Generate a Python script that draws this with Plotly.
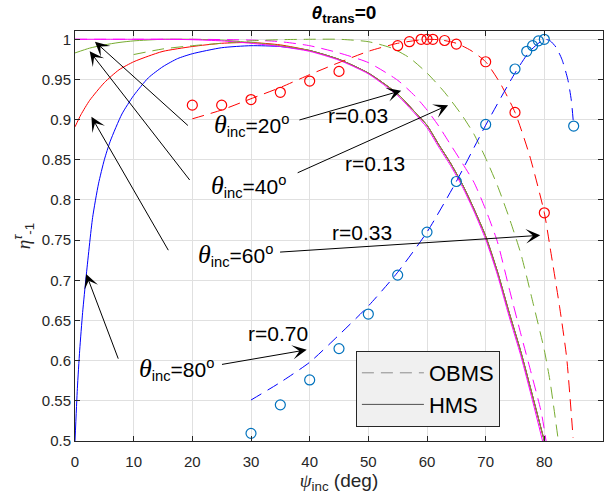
import plotly.graph_objects as go

# ---------------- data ----------------
# HMS (solid) curves
hms20_x = [0, 5, 10, 15, 20, 25, 30, 35, 40, 45, 50, 55, 58, 60, 62, 64, 66, 68, 70, 72, 74, 76, 78, 79.7]
hms20_y = [1.0, 1.0, 1.0, 1.0, 0.9995, 0.998, 0.995, 0.991, 0.985, 0.974, 0.957, 0.930, 0.907, 0.890,
           0.866, 0.843, 0.817, 0.786, 0.751, 0.707, 0.655, 0.606, 0.550, 0.5]
hms40_x = [0, 2.5, 5, 7.5, 10, 15, 20, 25, 30, 35, 40, 45, 50, 55, 58, 60, 62, 64, 66, 68, 70, 72, 74, 76, 78, 80]
hms40_y = [0.983, 0.989, 0.993, 0.996, 0.998, 1.0, 1.0, 0.999, 0.996, 0.992, 0.986, 0.975, 0.958, 0.932,
           0.909, 0.893, 0.869, 0.846, 0.820, 0.789, 0.755, 0.711, 0.660, 0.611, 0.556, 0.5]
hms60_x = [0, 1, 2.5, 5, 7.5, 10, 12.5, 15, 20, 25, 30, 35, 40, 45, 50, 55, 58, 60, 62, 64, 66, 68, 70, 72, 74, 76, 78, 80]
hms60_y = [0.891, 0.906, 0.924, 0.946, 0.962, 0.972, 0.979, 0.985, 0.991, 0.995, 0.996, 0.993, 0.986,
           0.975, 0.958, 0.932, 0.909, 0.893, 0.869, 0.846, 0.820, 0.789, 0.755, 0.711, 0.660, 0.611, 0.556, 0.5]
hms80_x = [0, 0.4, 0.8, 1.3, 1.9, 3, 4, 5, 6, 8, 10, 12.5, 15, 17.5, 20, 25, 30, 35, 40, 45, 50, 55, 58, 60,
           62, 64, 66, 68, 70, 72, 74, 76, 78, 80]
hms80_y = [0.5, 0.565, 0.613, 0.66, 0.705, 0.778, 0.82, 0.85, 0.873, 0.907, 0.93, 0.952, 0.966, 0.976, 0.982,
           0.9895, 0.992, 0.991, 0.986, 0.975, 0.958, 0.932, 0.909, 0.893, 0.869, 0.846, 0.820, 0.789, 0.755,
           0.711, 0.660, 0.611, 0.556, 0.5]

# OBMS (dashed) curves
obms20_x = [0, 10, 20, 30, 35, 40, 45, 50, 55, 58, 60, 62, 64, 66, 68, 70, 72, 74, 76, 78, 79.5, 80.3]
obms20_y = [1.0, 1.0, 1.0, 0.999, 0.997, 0.992, 0.983, 0.971, 0.949, 0.929, 0.912, 0.892, 0.869, 0.846,
            0.822, 0.788, 0.748, 0.690, 0.633, 0.578, 0.535, 0.5]
obms40_x = [10, 15, 20, 25, 30, 35, 40, 45, 50, 54, 57, 60, 63, 66, 68, 70, 72, 74, 76, 78, 80, 81, 82.3]
obms40_y = [0.981, 0.988, 0.992, 0.995, 0.998, 0.9995, 1.0, 1.0, 0.997, 0.989, 0.977, 0.958, 0.934, 0.905,
            0.882, 0.852, 0.818, 0.778, 0.733, 0.674, 0.613, 0.573, 0.505]
obms60_x = [20, 25, 30, 35, 40, 45, 50, 55, 60, 62.5, 65, 67.5, 70, 72.5, 75, 77.5, 80, 81, 82.6, 83.8, 84.9]
obms60_y = [0.901, 0.912, 0.926, 0.940, 0.956, 0.971, 0.985, 0.995, 1.0, 0.999, 0.995, 0.986, 0.972,
            0.945, 0.909, 0.855, 0.784, 0.740, 0.667, 0.604, 0.504]
obms80_x = [30, 35, 40, 45, 50, 55, 60, 65, 70, 75, 77.5, 80, 81, 82, 83, 84, 84.6, 85]
obms80_y = [0.551, 0.573, 0.598, 0.632, 0.668, 0.710, 0.760, 0.823, 0.893, 0.958, 0.985, 1.0, 0.998,
            0.99, 0.975, 0.950, 0.924, 0.892]

# markers (circles)
red_pts_x = [20, 25, 30, 35, 40, 45, 55, 57, 59, 60, 61, 63, 65, 70, 75, 80]
red_pts_y = [0.918, 0.918, 0.925, 0.934, 0.948, 0.960, 0.992, 0.997, 1.0, 1.0, 1.0, 0.9985, 0.994, 0.972, 0.909, 0.784]
blue_pts_x = [30, 35, 40, 45, 50, 55, 60, 65, 70, 75, 77, 78, 79, 80, 85]
blue_pts_y = [0.5095, 0.545, 0.576, 0.615, 0.658, 0.7065, 0.760, 0.823, 0.894, 0.963, 0.985, 0.992, 0.998, 1.0, 0.892]

# annotation labels
theta_labels = ["20", "40", "60", "80"]
r_labels = ["r=0.03", "r=0.13", "r=0.33", "r=0.70"]
x_ticks = [0, 10, 20, 30, 40, 50, 60, 70, 80, 90]
y_ticks = [0.5, 0.55, 0.6, 0.65, 0.7, 0.75, 0.8, 0.85, 0.9, 0.95, 1.0]
y_ticktext = ["0.5", "0.55", "0.6", "0.65", "0.7", "0.75", "0.8", "0.85", "0.9", "0.95", "1"]

# ---------------- styles ----------------
C_BLUE = "#0000ff"
C_RED = "#ff0000"
C_GREEN = "#77ac30"
C_MAG = "#ff00ff"
C_MBLUE = "#0072bd"
DASH = "12px,7px"
SERIF = "Liberation Serif"
SANS = "Liberation Sans, Arial, sans-serif"

fig = go.Figure()

def add_line(x, y, color, dash=None):
    fig.add_trace(go.Scatter(x=x, y=y, mode="lines", showlegend=False, hoverinfo="skip",
                             line=dict(color=color, width=1, dash=dash, shape="spline", smoothing=0.6)))

add_line(hms80_x, hms80_y, C_BLUE)
add_line(hms60_x, hms60_y, C_RED)
add_line(hms40_x, hms40_y, C_GREEN)
add_line(hms20_x, hms20_y, C_MAG)
add_line(obms20_x, obms20_y, C_MAG, DASH)
add_line(obms40_x, obms40_y, C_GREEN, DASH)
add_line(obms60_x, obms60_y, C_RED, DASH)
add_line(obms80_x, obms80_y, C_BLUE, DASH)

fig.add_trace(go.Scatter(x=red_pts_x, y=red_pts_y, mode="markers", showlegend=False, hoverinfo="skip",
                         marker=dict(symbol="circle-open", size=10, color=C_RED, line=dict(width=1.2))))
fig.add_trace(go.Scatter(x=blue_pts_x, y=blue_pts_y, mode="markers", showlegend=False, hoverinfo="skip",
                         marker=dict(symbol="circle-open", size=10, color=C_MBLUE, line=dict(width=1.2))))

# legend entries
fig.add_trace(go.Scatter(x=[None], y=[None], mode="lines", name="OBMS",
                         line=dict(color="#8c8c8c", width=1, dash=DASH)))
fig.add_trace(go.Scatter(x=[None], y=[None], mode="lines", name="HMS",
                         line=dict(color="#505050", width=1)))

# ---------------- annotations ----------------
anns = []
# arrows: (head x, head y, tail x, tail y)
arrows = [
    (3.4, 0.997, 19.5, 0.891),
    (2.5, 0.985, 19.8, 0.8225),
    (2.8, 0.9035, 16.1, 0.735),
    (1.9, 0.708, 7.5, 0.600),
    (55.6, 0.936, 38.0, 0.899),
    (63.6, 0.918, 37.7, 0.833),
    (79.3, 0.756, 34.7, 0.735),
    (39.5, 0.6135, 24.8, 0.595),
]
for hx, hy, tx, ty in arrows:
    anns.append(dict(x=hx, y=hy, ax=tx, ay=ty, xref="x", yref="y", axref="x", ayref="y",
                     text=" ", font=dict(size=1), showarrow=True, arrowhead=3, arrowsize=2.4, arrowwidth=1,
                     arrowcolor="black", standoff=0, startstandoff=0))

theta_pos = [(30.0, 0.893), (29.6, 0.817), (27.4, 0.731), (17.3, 0.589)]
for lab, (tx, ty) in zip(theta_labels, theta_pos):
    anns.append(dict(x=tx, y=ty, xref="x", yref="y", showarrow=False, xanchor="center", yanchor="middle",
                     text=f"<span style='font-family:{SERIF};font-size:26px'><i>θ</i></span>"
                          f"<sub>inc</sub>=" + lab + "<sup>o</sup>",
                     font=dict(family=SANS, size=21, color="black")))

r_pos = [(48.2, 0.9047), (51.1, 0.8454), (48.9, 0.7597), (34.6, 0.6344)]
for lab, (tx, ty) in zip(r_labels, r_pos):
    anns.append(dict(x=tx, y=ty, xref="x", yref="y", showarrow=False, xanchor="center", yanchor="middle",
                     text=lab, font=dict(family=SANS, size=21, color="black")))

fig.update_layout(
    width=611, height=504,
    margin=dict(l=75, r=8, t=31, b=63),
    paper_bgcolor="white", plot_bgcolor="white",
    font=dict(family=SANS, color="#262626", size=15),
    title=dict(text=f"<b><i>θ</i><sub>trans</sub>=0</b>", x=0.563, xanchor="center",
               y=0.976, yanchor="middle", font=dict(family=SANS, size=19, color="black")),
    annotations=anns,
    showlegend=True,
    legend=dict(x=0.532, y=0.2195, xanchor="left", yanchor="top", bgcolor="#f0f0f0",
                bordercolor="#262626", borderwidth=1, font=dict(family=SANS, size=22, color="black"),
                itemwidth=62, tracegroupgap=0),
    xaxis=dict(range=[0, 90], tickvals=x_ticks, ticks="inside", ticklen=5, tickcolor="#262626",
               showline=True, linecolor="#262626", linewidth=1, mirror="ticks",
               showgrid=True, gridcolor="#e0e0e0", gridwidth=1, zeroline=False,
               tickfont=dict(size=15, color="#262626"), ticklabelstandoff=7,
               title=dict(text=f"<span style='font-family:{SERIF}'><i>ψ</i></span><sub>inc</sub> (deg)",
                          font=dict(size=19, color="#262626"), standoff=4)),
    yaxis=dict(range=[0.5, 1.0103], tickvals=y_ticks, ticktext=y_ticktext, ticks="inside", ticklen=5,
               tickcolor="#262626", showline=True, linecolor="#262626", linewidth=1, mirror="ticks",
               showgrid=True, gridcolor="#e0e0e0", gridwidth=1, zeroline=False,
               tickfont=dict(size=15, color="#262626"),
               title=dict(text=f"<span style='font-family:{SERIF}'><i>η</i></span><sup><i>τ</i></sup><sub>-1</sub>",
                          font=dict(size=19, color="#262626"), standoff=6)),
)

fig.write_html("out.html")
